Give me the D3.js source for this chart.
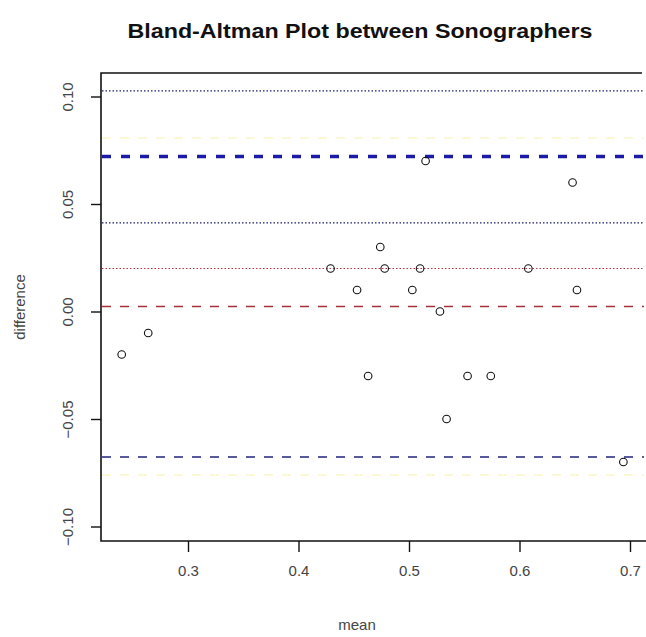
<!DOCTYPE html>
<html>
<head>
<meta charset="utf-8">
<script src="https://cdn.jsdelivr.net/npm/d3@7"></script>
<style>
  html, body { margin: 0; padding: 0; background: #fff; }
  svg { display: block; font-family: "Liberation Sans", Arial, sans-serif; }
</style>
</head>
<body>
<svg id="chart" width="646" height="637"></svg>
<script>
// ---- data ----
const means = [0.240, 0.264, 0.429, 0.453, 0.463, 0.474, 0.478, 0.503, 0.510, 0.515,
               0.528, 0.534, 0.553, 0.574, 0.608, 0.648, 0.652, 0.694];
const diffs = [-0.02, -0.01, 0.02, 0.01, -0.03, 0.03, 0.02, 0.01, 0.02, 0.07,
               0.00, -0.05, -0.03, -0.03, 0.02, 0.06, 0.01, -0.07];
const xTicks = [0.3, 0.4, 0.5, 0.6, 0.7];
const yTicks = [-0.10, -0.05, 0.00, 0.05, 0.10];

// reference lines: mean difference, limits of agreement, confidence bands
const refValues = [0.1026, 0.0807, 0.0721, 0.0412, 0.0200, 0.0023, -0.0677, -0.0760];
const refKinds  = ['dot', 'haze', 'loaBold', 'dot', 'redDot', 'meanDash', 'loa', 'haze'];

const STYLES = {
    dot:      { stroke: '#1c1c7a', width: 1.2, dash: '1.5,2' },
    haze:     { stroke: '#fbf8d8', width: 2,   dash: '9,9' },
    loaBold:  { stroke: '#1b1ba8', width: 3.5, dash: '9,10' },
    redDot:   { stroke: '#c0303a', width: 1.2, dash: '1.5,2' },
    meanDash: { stroke: '#a8303a', width: 1.6, dash: '9,9' },
    loa:      { stroke: '#23237e', width: 1.6, dash: '9,9' },
};

const margin = { left: 101, top: 73, right: 644, bottom: 541 };

const svg = d3.select('#chart');

const x = d3.scaleLinear()
    .domain([0.3 - 87 / 1105, 0.3 + 456 / 1105])
    .range([margin.left, margin.right]);
const y = d3.scaleLinear()
    .domain([-(541 - 311.5) / 2150, (311.5 - 73) / 2150])
    .range([margin.bottom, margin.top]);

// ---- reference lines ----
svg.append('g')
    .selectAll('line')
    .data(refValues.map((v, i) => ({ v, k: refKinds[i] })))
    .enter()
    .append('line')
    .attr('x1', margin.left + 1)
    .attr('x2', margin.right)
    .attr('y1', (d) => y(d.v))
    .attr('y2', (d) => y(d.v))
    .attr('stroke', (d) => STYLES[d.k].stroke)
    .attr('stroke-width', (d) => STYLES[d.k].width)
    .attr('stroke-dasharray', (d) => STYLES[d.k].dash);

// ---- points ----
svg.append('g')
    .selectAll('circle')
    .data(means.map((m, i) => ({ m, d: diffs[i] })))
    .enter()
    .append('circle')
    .attr('cx', (d) => x(d.m))
    .attr('cy', (d) => y(d.d))
    .attr('r', 3.8)
    .attr('fill', 'none')
    .attr('stroke', '#111')
    .attr('stroke-width', 1.1);

// ---- frame (left, top, bottom) ----
const frame = svg.append('g').attr('stroke', '#111').attr('stroke-width', 1.6).attr('fill', 'none');
frame.append('path')
    .attr('d', `M${margin.right - 2},${margin.top}H${margin.left}V${margin.bottom}H${margin.right + 2}`);

// ---- axes ----
const yAxis = svg.append('g')
    .attr('transform', `translate(${margin.left},0)`)
    .call(d3.axisLeft(y).tickValues(yTicks).tickSize(10).tickSizeOuter(0).tickFormat(d3.format('.2f')));
yAxis.select('.domain').remove();
yAxis.selectAll('line').attr('stroke', '#111').attr('stroke-width', 1.4);
yAxis.selectAll('text')
    .attr('transform', 'rotate(-90)')
    .attr('x', 0)
    .attr('y', -28)
    .attr('dy', 0)
    .attr('text-anchor', 'middle')
    .attr('font-size', 15)
    .attr('fill', '#444');

const xAxis = svg.append('g')
    .attr('transform', `translate(0,${margin.bottom})`)
    .call(d3.axisBottom(x).tickValues(xTicks).tickSize(11).tickSizeOuter(0).tickFormat(d3.format('.1f')));
xAxis.select('.domain').remove();
xAxis.selectAll('line').attr('stroke', '#111').attr('stroke-width', 1.4);
xAxis.selectAll('text')
    .attr('y', 30)
    .attr('dy', '0.35em')
    .attr('font-size', 15)
    .attr('fill', '#444');

// ---- titles ----
svg.append('text')
    .attr('x', 360)
    .attr('y', 38)
    .attr('text-anchor', 'middle')
    .attr('font-size', 20)
    .attr('font-weight', 'bold')
    .attr('textLength', 465)
    .attr('lengthAdjust', 'spacingAndGlyphs')
    .attr('fill', '#111')
    .text('Bland-Altman Plot between Sonographers');

svg.append('text')
    .attr('x', 357)
    .attr('y', 630)
    .attr('text-anchor', 'middle')
    .attr('font-size', 15)
    .attr('fill', '#444')
    .text('mean');

svg.append('text')
    .attr('transform', `translate(25,307) rotate(-90)`)
    .attr('text-anchor', 'middle')
    .attr('font-size', 15)
    .attr('fill', '#444')
    .text('difference');
</script>
</body>
</html>
